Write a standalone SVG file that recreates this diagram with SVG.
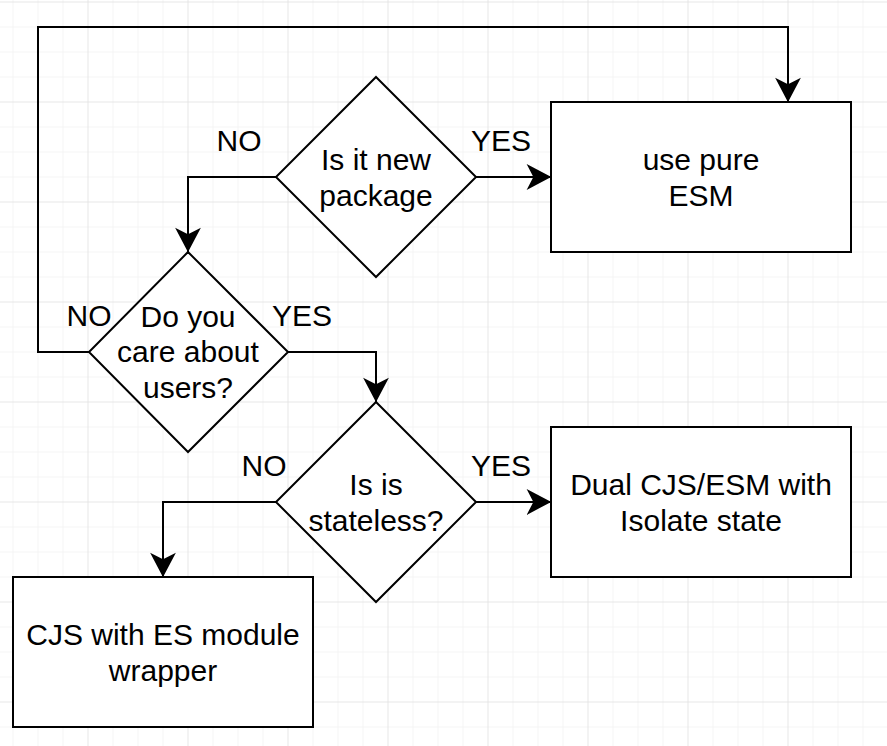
<svg xmlns="http://www.w3.org/2000/svg" width="887" height="746" viewBox="0 0 887 746">
<style>
.shape{fill:#ffffff;stroke:#000000;stroke-width:2}
.edge{fill:none;stroke:#000000;stroke-width:2}
.t{font-family:"Liberation Sans",Arial,sans-serif;font-size:30px;fill:#000000;text-anchor:middle}
.minor{stroke:#f4f4f4;stroke-width:1}
.major{stroke:#e6e6e6;stroke-width:1}
</style>
<defs>
<pattern id="grid" patternUnits="userSpaceOnUse" x="-12.5" y="1.5" width="100" height="100">
<path class="minor" d="M25.5 0V100M50.5 0V100M75.5 0V100M0 25.5H100M0 50.5H100M0 75.5H100"/>
<path class="major" d="M0.5 0V100M0 0.5H100"/>
</pattern>
<marker id="arrow" markerUnits="userSpaceOnUse" viewBox="-24 -13 26 26" refX="0" refY="0" markerWidth="26" markerHeight="26" orient="auto" overflow="visible">
<path d="M-2,0 L-22,-10.5 L-16.5,0 L-22,10.5 Z" fill="#000000" stroke="#000000" stroke-width="2" stroke-linejoin="miter"/>
</marker>
</defs>
<rect x="0" y="0" width="887" height="746" fill="#ffffff"/>
<rect x="0" y="0" width="887" height="746" fill="url(#grid)"/>
<g id="connectors">
<path class="edge" d="M89 352H38V27H788V102" marker-end="url(#arrow)"/>
<path class="edge" d="M276 177H188V252" marker-end="url(#arrow)"/>
<path class="edge" d="M476 177H551" marker-end="url(#arrow)"/>
<path class="edge" d="M288 352H376V402" marker-end="url(#arrow)"/>
<path class="edge" d="M476 502H551" marker-end="url(#arrow)"/>
<path class="edge" d="M276 502H163V577" marker-end="url(#arrow)"/>
<text class="t" x="239" y="151">NO</text>
<text class="t" x="501" y="151">YES</text>
<text class="t" x="89" y="326">NO</text>
<text class="t" x="302" y="326">YES</text>
<text class="t" x="264" y="476">NO</text>
<text class="t" x="501" y="476">YES</text>
</g>
<g id="node-new-package">
<path class="shape" d="M376 77L476 177L376 277L276 177Z"/>
<text class="t" x="376" y="170">Is it new</text>
<text class="t" x="376" y="206">package</text>
</g>
<g id="node-pure-esm">
<rect class="shape" x="551" y="102" width="300" height="150"/>
<text class="t" x="701" y="170">use pure</text>
<text class="t" x="701" y="206">ESM</text>
</g>
<g id="node-care-users">
<path class="shape" d="M188 252L288 352L188 452L89 352Z"/>
<text class="t" x="188" y="327">Do you</text>
<text class="t" x="188" y="362">care about</text>
<text class="t" x="188" y="398">users?</text>
</g>
<g id="node-stateless">
<path class="shape" d="M376 402L476 502L376 602L276 502Z"/>
<text class="t" x="376" y="495">Is is</text>
<text class="t" x="376" y="531">stateless?</text>
</g>
<g id="node-dual">
<rect class="shape" x="551" y="427" width="300" height="150"/>
<text class="t" x="701" y="495">Dual CJS/ESM with</text>
<text class="t" x="701" y="531">Isolate state</text>
</g>
<g id="node-cjs-wrapper">
<rect class="shape" x="13" y="577" width="300" height="150"/>
<text class="t" x="163" y="645">CJS with ES module</text>
<text class="t" x="163" y="681">wrapper</text>
</g>
</svg>
